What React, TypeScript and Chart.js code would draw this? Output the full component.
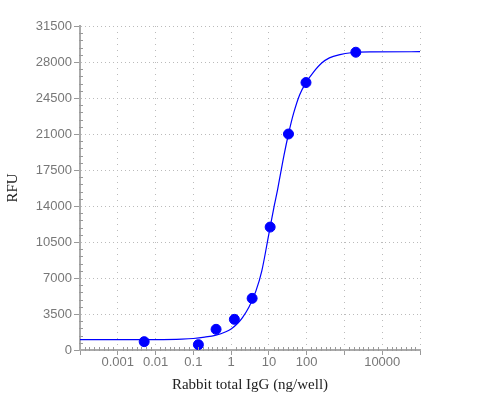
import React, { useEffect, useRef } from "react";
import { Chart, registerables } from "chart.js";

Chart.register(...registerables);

const pointX = [0.005, 0.136, 0.4, 1.22, 3.6, 10.8, 33, 96, 2000];
const pointY = [810, 520, 2010, 2980, 5020, 11950, 21000, 26000, 28950];

const curveX = [0.0001, 0.001, 0.01, 0.05, 0.1, 0.2, 0.4, 0.7, 1, 1.5, 2, 3, 4.5, 6.5, 10, 14, 17, 20, 25, 33, 45, 65, 96, 150, 250, 400, 760, 1500, 5000, 100000];
const curveY = [1000, 1000, 1010, 1060, 1120, 1250, 1450, 1750, 2050, 2600, 3150, 4200, 5700, 7700, 11300, 14100, 15600, 17000, 18900, 21000, 23000, 24800, 26000, 27000, 27900, 28400, 28720, 28900, 28980, 29000];

const xTickValues = [0.0001, 0.001, 0.01, 0.1, 1, 10, 100, 1000, 10000, 100000];
const xTickLabels = ["", "0.001", "0.01", "0.1", "1", "10", "100", "", "10000", ""];

const yMin = 0;
const yMax = 31500;
const yStep = 3500;
const yMinorStep = 700;

const xTitle = "Rabbit total IgG (ng/well)";
const yTitle = "RFU";

const minorTicks = {
  id: "minorTicks",
  afterDraw(chart: any) {
    const ctx = chart.ctx;
    const xs = chart.scales.x;
    const ys = chart.scales.y;
    const area = chart.chartArea;
    ctx.save();
    ctx.strokeStyle = "#999";
    ctx.lineWidth = 1;
    ctx.beginPath();
    for (let v = yMin; v <= yMax; v += yMinorStep) {
      if (v % yStep === 0) continue;
      const py = Math.round(ys.getPixelForValue(v)) + 0.5;
      ctx.moveTo(area.left - 1, py);
      ctx.lineTo(area.left + 3, py);
    }
    for (let i = 0; i < xTickValues.length - 1; i++) {
      const a = Math.log10(xTickValues[i]);
      for (let k = 1; k < 8; k++) {
        const v = Math.pow(10, a + k / 8);
        const px = Math.round(xs.getPixelForValue(v)) + 0.5;
        ctx.moveTo(px, area.bottom + 1);
        ctx.lineTo(px, area.bottom - 3);
      }
    }
    ctx.stroke();
    ctx.restore();
  },
};

export default function App() {
  const ref = useRef<HTMLCanvasElement>(null);
  useEffect(() => {
    if (!ref.current) return;
    const chart = new Chart(ref.current, {
      type: "scatter",
      data: {
        datasets: [
          {
            type: "line",
            data: curveX.map((x, i) => ({ x, y: curveY[i] })),
            borderColor: "#0000ff",
            borderWidth: 1.2,
            pointRadius: 0,
            cubicInterpolationMode: "monotone",
            fill: false,
          } as any,
          {
            type: "scatter",
            data: pointX.map((x, i) => ({ x, y: pointY[i] })),
            backgroundColor: "#0000ff",
            borderColor: "#0000ff",
            pointRadius: 5,
          },
        ],
      },
      plugins: [minorTicks],
      options: {
        responsive: false,
        animation: false,
        layout: { padding: { top: 26, right: 80, left: 0, bottom: 0 } },
        plugins: { legend: { display: false }, tooltip: { enabled: false } },
        scales: {
          x: {
            type: "logarithmic",
            min: 0.0001,
            max: 100000,
            afterBuildTicks(scale: any) {
              scale.ticks = xTickValues.map((v) => ({ value: v }));
            },
            afterFit(scale: any) {
              scale.height = 50;
            },
            ticks: {
              autoSkip: false,
              maxRotation: 0,
              color: "#777",
              font: { family: "'Liberation Sans', Arial, sans-serif", size: 13 },
              padding: 0,
              callback: (_v: any, i: number) => xTickLabels[i],
            },
            grid: {
              color: "#bbb",
              tickColor: "#999",
              tickLength: 5,
              lineWidth: 1,
            },
            border: { display: true, color: "#aaa", width: 2, dash: [1, 5] },
            title: {
              display: true,
              text: xTitle,
              color: "#222",
              font: { family: "'Liberation Serif', 'Times New Roman', serif", size: 15 },
              padding: { top: 0, bottom: 6 },
            },
          },
          y: {
            min: yMin,
            max: yMax,
            afterBuildTicks(scale: any) {
              const t = [];
              for (let v = yMin; v <= yMax; v += yStep) t.push({ value: v });
              scale.ticks = t;
            },
            afterFit(scale: any) {
              scale.width = 80;
            },
            ticks: {
              color: "#777",
              font: { family: "'Liberation Sans', Arial, sans-serif", size: 13 },
              padding: 2,
              callback: (v: any) => String(v),
            },
            grid: {
              color: "#bbb",
              tickColor: "#999",
              tickLength: 6,
              lineWidth: 1,
            },
            border: { display: true, color: "#aaa", width: 2, dash: [1, 3] },
            title: {
              display: true,
              text: yTitle,
              color: "#222",
              font: { family: "'Liberation Serif', 'Times New Roman', serif", size: 15 },
              padding: { top: 4, bottom: 4 },
            },
          },
        },
      },
    });
    return () => chart.destroy();
  }, []);
  return (
    <div style={{ position: "fixed", left: 0, top: 0, width: 500, height: 400, background: "#fff" }}>
      <canvas ref={ref} width={500} height={400} />
    </div>
  );
}
